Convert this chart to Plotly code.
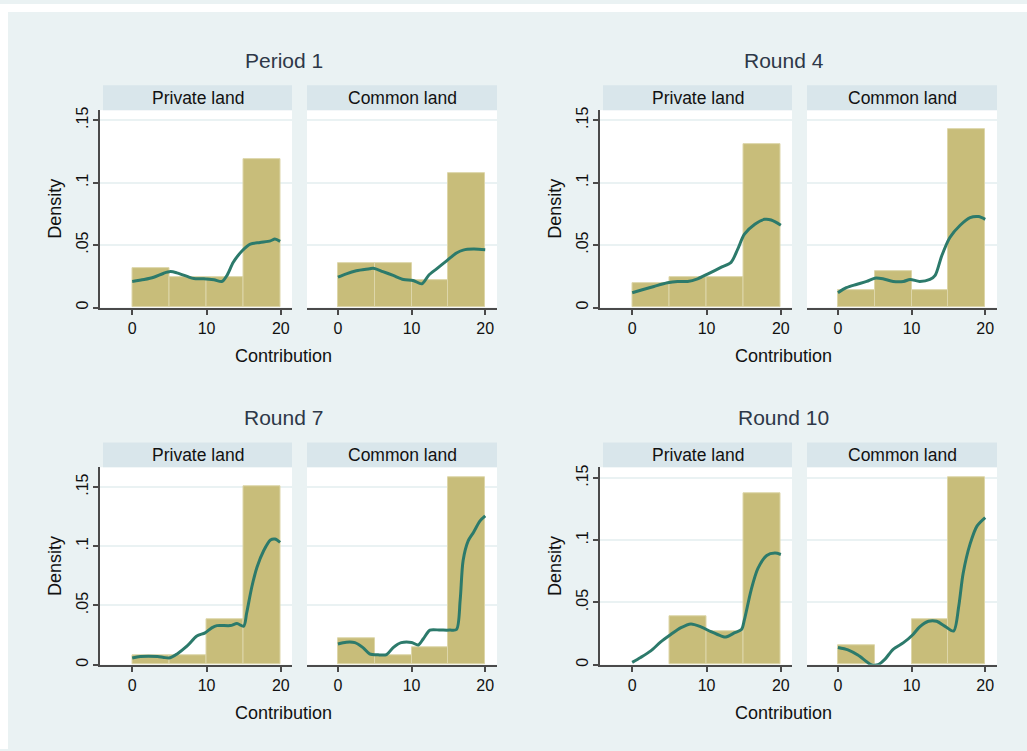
import plotly.graph_objects as go

W, H = 1027, 751

# ---------------- data ----------------
bin_centers = [2.5, 7.5, 12.5, 17.5]
bin_width = 5

panel_titles = ["Period 1", "Round 4", "Round 7", "Round 10"]
land_labels = ["Private land", "Common land"]
x_ticks = [0, 10, 20]
y_ticks = [0, 0.05, 0.1, 0.15]
y_tick_text = ["0", ".05", ".1", ".15"]

# histogram densities (bins 0-5, 5-10, 10-15, 15-20)
p1_private_hist = [0.0317, 0.0246, 0.0246, 0.1185]
p1_common_hist = [0.0357, 0.0357, 0.0222, 0.1074]
r4_private_hist = [0.0196, 0.0246, 0.0246, 0.1310]
r4_common_hist = [0.0137, 0.0291, 0.0137, 0.1431]
r7_private_hist = [0.0078, 0.0078, 0.0380, 0.1505]
r7_common_hist = [0.0222, 0.0080, 0.0147, 0.1580]
r10_private_hist = [0.0, 0.0388, 0.0265, 0.1380]
r10_common_hist = [0.0153, 0.0, 0.0362, 0.1503]

# kernel density curves
p1_private_kx = [0, 1.6, 2.9, 4.25, 5.15, 6.0, 7.4, 8.3, 9.6, 11.0, 12.1, 12.75, 13.6, 14.8, 15.9, 17.2, 18.6, 19.2, 19.9]
p1_private_ky = [0.0209, 0.0225, 0.0243, 0.0275, 0.0288, 0.0278, 0.0249, 0.0232, 0.0230, 0.0222, 0.0209, 0.0257, 0.0362, 0.0455, 0.0508, 0.0521, 0.0534, 0.0548, 0.0530]
p1_common_kx = [0, 1.14, 2.5, 4.3, 4.8, 6.1, 7.5, 8.9, 10.2, 11.4, 12.3, 13.4, 14.8, 16.1, 17.0, 18.4, 20.0]
p1_common_ky = [0.0243, 0.0270, 0.0294, 0.0310, 0.0315, 0.0288, 0.0257, 0.0225, 0.0217, 0.0190, 0.0257, 0.0310, 0.0376, 0.0437, 0.0460, 0.0468, 0.0463]
r4_private_kx = [0, 1.13, 2.93, 4.74, 6.1, 7.45, 8.8, 10.2, 12.0, 13.3, 14.2, 15.1, 16.5, 17.8, 18.7, 20.0]
r4_private_ky = [0.0119, 0.0138, 0.0169, 0.0198, 0.0209, 0.0209, 0.0230, 0.0270, 0.0323, 0.0362, 0.0468, 0.0587, 0.0667, 0.0706, 0.0701, 0.0659]
r4_common_kx = [0, 1.14, 2.5, 3.9, 5.0, 6.1, 7.5, 8.9, 9.8, 11.1, 12.5, 13.2, 14.1, 15.2, 16.6, 17.95, 19.1, 20.0]
r4_common_ky = [0.0119, 0.0159, 0.0185, 0.0209, 0.0235, 0.0230, 0.0209, 0.0209, 0.0225, 0.0209, 0.0225, 0.0257, 0.0415, 0.0561, 0.0659, 0.0720, 0.0728, 0.0706]
r7_private_kx = [0, 1.1, 3.4, 4.25, 5.1, 6.0, 7.4, 8.7, 9.8, 10.7, 11.4, 13.2, 14.1, 15.0, 15.4, 16.1, 16.8, 17.7, 18.6, 19.2, 19.9]
r7_private_ky = [0.0056, 0.0069, 0.0069, 0.0061, 0.0058, 0.0089, 0.0158, 0.0242, 0.0269, 0.0311, 0.0330, 0.0330, 0.0347, 0.0325, 0.0436, 0.0658, 0.0825, 0.0964, 0.1053, 0.1061, 0.1033]
r7_common_kx = [0, 1.14, 2.3, 3.4, 4.3, 5.45, 6.6, 7.5, 8.6, 10.0, 10.9, 11.6, 12.5, 13.9, 15.2, 16.1, 16.6, 17.0, 17.7, 18.4, 19.3, 20.0]
r7_common_ky = [0.0175, 0.0190, 0.0186, 0.0144, 0.0092, 0.0083, 0.0085, 0.0144, 0.0186, 0.0188, 0.0166, 0.0219, 0.0292, 0.0292, 0.0292, 0.0297, 0.0547, 0.0880, 0.1047, 0.1117, 0.1214, 0.1256]
r10_private_kx = [0, 1.13, 2.5, 3.84, 5.2, 6.5, 7.9, 9.25, 10.6, 12.0, 12.6, 13.8, 14.7, 15.1, 16.0, 16.9, 18.1, 19.2, 20.0]
r10_private_ky = [0.0019, 0.0058, 0.0111, 0.0183, 0.0243, 0.0296, 0.0328, 0.0304, 0.0265, 0.0230, 0.0222, 0.0257, 0.0283, 0.0362, 0.0600, 0.0772, 0.0878, 0.0897, 0.0886]
r10_common_kx = [0, 1.36, 2.7, 3.9, 4.5, 5.45, 6.4, 7.5, 8.9, 10.2, 11.1, 12.3, 13.4, 14.5, 15.7, 16.4, 17.0, 17.95, 18.9, 20.0]
r10_common_ky = [0.0138, 0.0119, 0.0077, 0.0024, 0.0, 0.0, 0.0045, 0.0124, 0.0177, 0.0243, 0.0304, 0.0349, 0.0349, 0.0310, 0.0270, 0.0468, 0.0733, 0.0971, 0.1116, 0.1183]

y_max = [0.158, 0.158, 0.1667, 0.1587]

panels = [
    [(p1_private_hist, p1_private_kx, p1_private_ky), (p1_common_hist, p1_common_kx, p1_common_ky)],
    [(r4_private_hist, r4_private_kx, r4_private_ky), (r4_common_hist, r4_common_kx, r4_common_ky)],
    [(r7_private_hist, r7_private_kx, r7_private_ky), (r7_common_hist, r7_common_kx, r7_common_ky)],
    [(r10_private_hist, r10_private_kx, r10_private_ky), (r10_common_hist, r10_common_kx, r10_common_ky)],
]

# ---------------- style ----------------
BG = "#EAF2F3"
STRIP = "#D9E6EB"
BAR = "#C8BD7A"
BAR_EDGE = "#DDD6A9"
LINE = "#2C7A6B"
AXIS = "#4A4A4A"
TXT = "#111111"
TITLE_TXT = "#2E3848"
FONT = "Liberation Sans, Arial, sans-serif"

def fx(px):
    return px / W

def fy(py):
    return 1 - py / H

fig = go.Figure()
layout = dict(
    width=W, height=H,
    margin=dict(l=0, r=0, t=0, b=0),
    paper_bgcolor=BG, plot_bgcolor="white",
    showlegend=False,
    font=dict(family=FONT, size=16, color=TXT),
)
shapes = []
annotations = []

# offsets of each subgraph (dx, dy) in pixels
offsets = [(0, 0), (500, 0), (0, 360), (500, 360)]
# base geometry (top-left subgraph)
priv_x = (99.5, 292.0)
comm_x = (307.0, 497.0)
plot_y = (107.0, 306.0)
strip_y = (82.0, 107.0)
priv_range = [-4.4, 21.5]
comm_range = [-4.2, 21.6]

ax_i = 0
for g, (dx, dy) in enumerate(offsets):
    ytop, ybot = plot_y[0] + dy, plot_y[1] + dy
    for j in range(2):
        ax_i += 1
        xs = "" if ax_i == 1 else str(ax_i)
        hist, kx, ky = panels[g][j]
        xr = priv_x if j == 0 else comm_x
        x0, x1 = xr[0] + dx, xr[1] + dx
        fig.add_trace(go.Bar(
            x=bin_centers, y=hist, width=[bin_width] * len(bin_centers),
            marker=dict(color=BAR,
                        line=dict(color=BAR_EDGE, width=[0 if v == 0 else 1 for v in hist])),
            xaxis="x" + xs, yaxis="y" + xs, hoverinfo="skip",
        ))
        fig.add_trace(go.Scatter(
            x=kx, y=ky, mode="lines",
            line=dict(color=LINE, width=3, shape="spline", smoothing=0.8),
            xaxis="x" + xs, yaxis="y" + xs, hoverinfo="skip",
        ))
        layout["xaxis" + xs] = dict(
            domain=[fx(x0), fx(x1)], anchor="y" + xs,
            range=priv_range if j == 0 else comm_range,
            tickvals=x_ticks, ticktext=[str(v) for v in x_ticks],
            ticks="outside", ticklen=5, tickwidth=2, tickcolor=AXIS,
            showline=True, linecolor=AXIS, linewidth=2,
            showgrid=False, zeroline=False,
            tickfont=dict(size=16, color=TXT, family=FONT),
        )
        layout["yaxis" + xs] = dict(
            domain=[fy(ybot), fy(ytop)], anchor="x" + xs,
            range=[0, y_max[g]],
            tickvals=y_ticks, ticktext=y_tick_text,
            showgrid=True, gridcolor=BG, gridwidth=2,
            zeroline=False,
            tickangle=-90,
            ticklabelstandoff=-2,
            tickfont=dict(size=16, color=TXT, family=FONT),
            showline=(j == 0), linecolor=AXIS, linewidth=2,
            ticks="outside" if j == 0 else "", ticklen=5, tickwidth=2, tickcolor=AXIS,
            showticklabels=(j == 0),
        )
        # header strip
        sx0 = (103.0 if j == 0 else comm_x[0]) + dx
        shapes.append(dict(type="rect", xref="paper", yref="paper",
                           x0=fx(sx0), x1=fx(x1), y0=fy(strip_y[1] + dy), y1=fy(strip_y[0] + dy),
                           fillcolor=STRIP, line=dict(width=0), layer="below"))
        annotations.append(dict(text=land_labels[j], xref="paper", yref="paper",
                                x=fx((sx0 + x1) / 2), y=fy((strip_y[0] + strip_y[1]) / 2 + dy),
                                showarrow=False, xanchor="center", yanchor="middle",
                                font=dict(size=17.5, color=TXT, family=FONT)))
    # subgraph title
    annotations.append(dict(text=panel_titles[g], xref="paper", yref="paper",
                            x=fx(283.5 + dx), y=fy(57 + dy), showarrow=False,
                            xanchor="center", yanchor="middle",
                            font=dict(size=21, color=TITLE_TXT, family=FONT)))
    # axis titles
    annotations.append(dict(text="Density", xref="paper", yref="paper",
                            x=fx(55 + dx), y=fy((ytop + ybot) / 2), showarrow=False,
                            textangle=-90, xanchor="center", yanchor="middle",
                            font=dict(size=18, color=TXT, family=FONT)))
    annotations.append(dict(text="Contribution", xref="paper", yref="paper",
                            x=fx(283.5 + dx), y=fy(355 + dy), showarrow=False,
                            xanchor="center", yanchor="middle",
                            font=dict(size=18, color=TXT, family=FONT)))

# white border at top and left
shapes.append(dict(type="rect", xref="paper", yref="paper", x0=0, x1=1, y0=fy(8), y1=1,
                   fillcolor="white", line=dict(width=0), layer="above"))
shapes.append(dict(type="rect", xref="paper", yref="paper", x0=0, x1=fx(8), y0=0, y1=1,
                   fillcolor="white", line=dict(width=0), layer="above"))

layout["shapes"] = shapes
layout["annotations"] = annotations
layout["bargap"] = 0
fig.update_layout(**layout)
fig.write_html("out.html")
